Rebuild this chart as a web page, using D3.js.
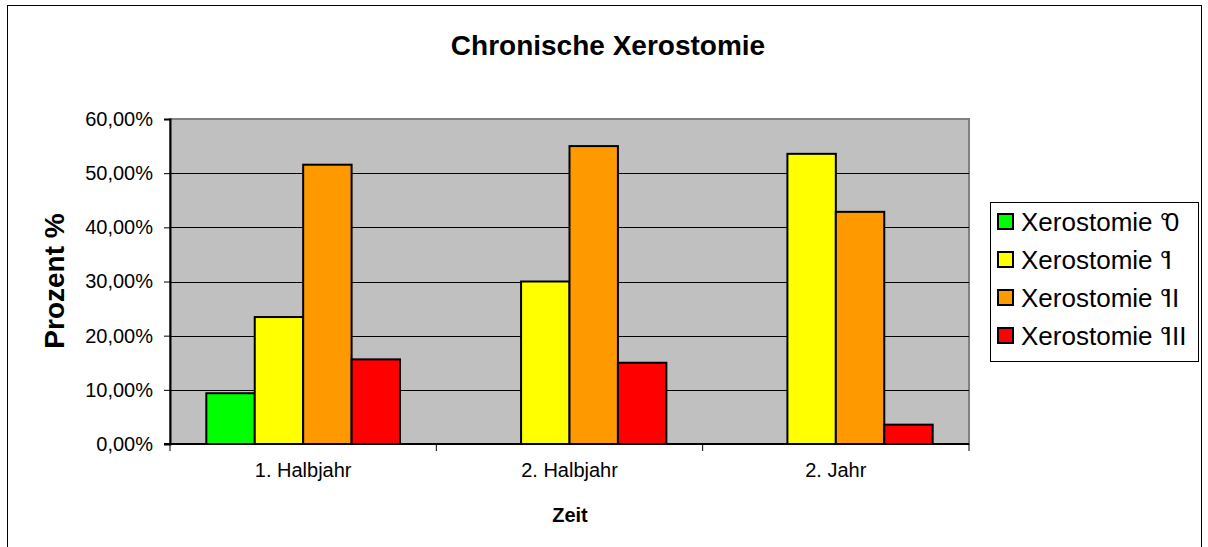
<!DOCTYPE html>
<html>
<head>
<meta charset="utf-8">
<script src="https://cdn.jsdelivr.net/npm/d3@7"></script>
<style>
  body { margin: 0; background: #fff; }
  svg { display: block; font-family: "Liberation Sans", Arial, sans-serif; }
</style>
</head>
<body>
<div id="chart"></div>
<script>
// data
const categories = ["1. Halbjahr", "2. Halbjahr", "2. Jahr"];
const seriesNames = ["Xerostomie °0", "Xerostomie °I", "Xerostomie °II", "Xerostomie °III"];
const grade0 = [0.09375, 0, 0];
const grade1 = [0.234375, 0.30, 0.5357];
const grade2 = [0.515625, 0.55, 0.4286];
const grade3 = [0.15625, 0.15, 0.0357];
const yTicks = [0, 0.1, 0.2, 0.3, 0.4, 0.5, 0.6];
const colors = ["#00ff00", "#ffff00", "#ff9900", "#ff0000"];

const series = [grade0, grade1, grade2, grade3];

const W = 1208, H = 547;
const plot = { left: 170, top: 119, right: 969, bottom: 444 };

const svg = d3.select("#chart").append("svg")
    .attr("width", W)
    .attr("height", H);

// outer chart frame
svg.append("rect")
    .attr("x", 7.5).attr("y", 5.5)
    .attr("width", 1194).attr("height", 560)
    .attr("fill", "#fff")
    .attr("stroke", "#000")
    .attr("stroke-width", 1);

const x0 = d3.scaleBand()
    .domain(categories)
    .range([plot.left, plot.right]);

// gap width ~150%: group = 4 bars + 1.5 bar widths of gap
const barW = x0.bandwidth() / 5.5;
const innerStart = barW * 0.75;

const y = d3.scaleLinear()
    .domain([0, 0.6])
    .range([plot.bottom, plot.top]);

// plot background
svg.append("rect")
    .attr("x", plot.left).attr("y", plot.top)
    .attr("width", plot.right - plot.left)
    .attr("height", plot.bottom - plot.top)
    .attr("fill", "#c0c0c0")
    .attr("stroke", "#808080")
    .attr("stroke-width", 2);

// gridlines
svg.append("g")
    .selectAll("line")
    .data(yTicks.filter(d => d > 0 && d < 0.6))
    .enter()
    .append("line")
    .attr("x1", plot.left).attr("x2", plot.right)
    .attr("y1", d => Math.round(y(d)) + 0.5)
    .attr("y2", d => Math.round(y(d)) + 0.5)
    .attr("stroke", "#000")
    .attr("stroke-width", 1);

// bars
const fmt = d3.format(".2f");
series.forEach((vals, si) => {
    svg.append("g")
        .selectAll("rect")
        .data(vals.map((v, i) => ({ cat: categories[i], v: v })).filter(d => d.v > 0))
        .enter()
        .append("rect")
        .attr("x", d => x0(d.cat) + innerStart + si * barW)
        .attr("y", d => y(d.v))
        .attr("width", barW)
        .attr("height", d => y(0) - y(d.v))
        .attr("fill", colors[si])
        .attr("stroke", "#000")
        .attr("stroke-width", 2);
});

// y axis
const yAxis = d3.axisLeft(y)
    .tickValues(yTicks)
    .tickSize(6)
    .tickPadding(11)
    .tickFormat(d => fmt(d * 100).replace(".", ",") + "%");

const gy = svg.append("g")
    .attr("transform", `translate(${plot.left},0)`)
    .call(yAxis);
gy.select(".domain").attr("stroke", "#000").attr("stroke-width", 2);
gy.selectAll(".tick line").attr("stroke", "#000");
gy.selectAll("text")
    .attr("font-size", 20)
    .attr("fill", "#000")
    .style("font-family", "Liberation Sans, Arial, sans-serif");

// x axis: ticks at group boundaries
const gx = svg.append("g")
    .attr("transform", `translate(0,${plot.bottom})`);
gx.append("line")
    .attr("x1", plot.left - 6).attr("x2", plot.right)
    .attr("y1", 0).attr("y2", 0)
    .attr("stroke", "#000").attr("stroke-width", 2);
gx.selectAll(".xt")
    .data(categories.concat(["end"]))
    .enter()
    .append("line")
    .attr("class", "xt")
    .attr("x1", (d, i) => i < categories.length ? x0(d) : plot.right)
    .attr("x2", (d, i) => i < categories.length ? x0(d) : plot.right)
    .attr("y1", 0).attr("y2", 7)
    .attr("stroke", "#000");
gx.selectAll(".xl")
    .data(categories)
    .enter()
    .append("text")
    .attr("class", "xl")
    .attr("x", d => x0(d) + x0.bandwidth() / 2)
    .attr("y", 33)
    .attr("text-anchor", "middle")
    .attr("font-size", 20)
    .text(d => d);

// titles
svg.append("text")
    .attr("x", 608).attr("y", 55)
    .attr("text-anchor", "middle")
    .attr("font-size", 28)
    .attr("font-weight", "bold")
    .text("Chronische Xerostomie");

svg.append("text")
    .attr("x", 570).attr("y", 522)
    .attr("text-anchor", "middle")
    .attr("font-size", 20)
    .attr("font-weight", "bold")
    .text("Zeit");

svg.append("text")
    .attr("transform", "translate(64,281) rotate(-90)")
    .attr("text-anchor", "middle")
    .attr("font-size", 28)
    .attr("font-weight", "bold")
    .text("Prozent %");

// legend
const lg = svg.append("g").attr("transform", "translate(990,202)");
lg.append("rect")
    .attr("x", 0.5).attr("y", 0.5)
    .attr("width", 208).attr("height", 159)
    .attr("fill", "#fff")
    .attr("stroke", "#000");
const items = lg.selectAll(".item")
    .data(seriesNames)
    .enter()
    .append("g")
    .attr("class", "item")
    .attr("transform", (d, i) => `translate(0,${20 + i * 38})`);
items.append("rect")
    .attr("x", 8).attr("y", -8)
    .attr("width", 15).attr("height", 15)
    .attr("fill", (d, i) => colors[i])
    .attr("stroke", "#000")
    .attr("stroke-width", 2);
// pull the grade numeral back under the degree sign, as in the original
items.append("text")
    .attr("x", 31).attr("y", 9)
    .attr("font-size", 26)
    .attr("dx", d => d.split("").map((c, k) => k === d.indexOf("°") + 1 ? -5.5 : 0).join(" "))
    .text(d => d);
</script>
</body>
</html>
